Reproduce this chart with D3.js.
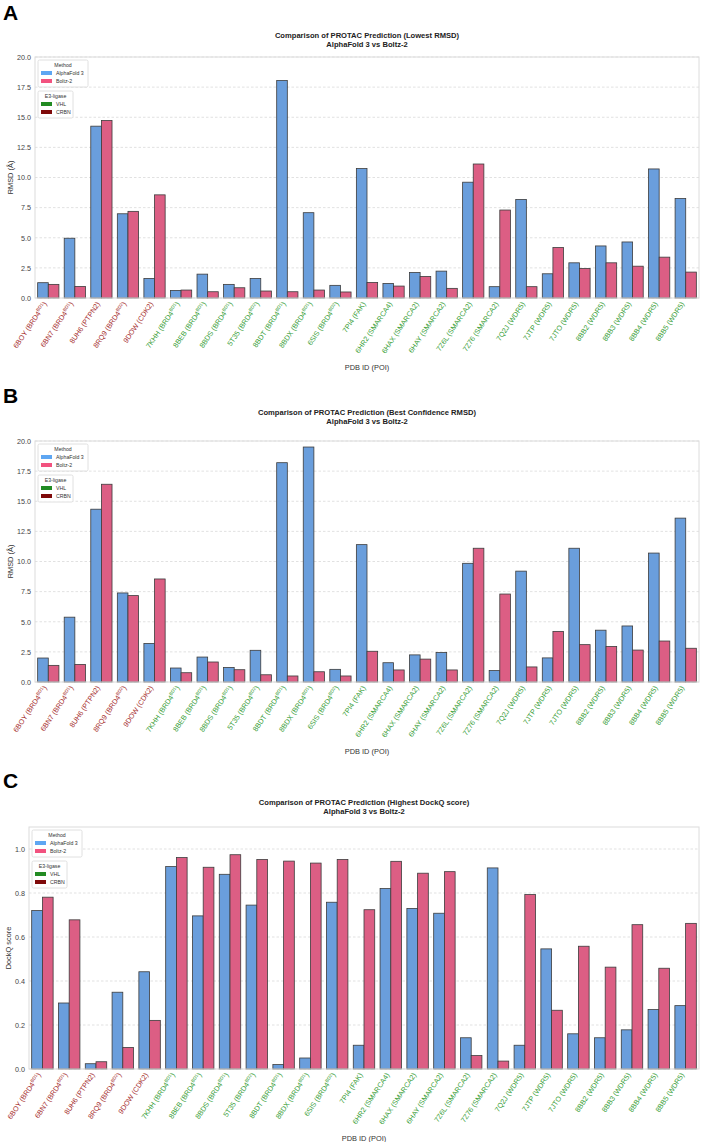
<!DOCTYPE html>
<html lang="en">
<head>
    <meta charset="UTF-8">
    <title>PROTAC prediction: AlphaFold 3 vs Boltz-2</title>
    <script src="https://cdnjs.cloudflare.com/ajax/libs/d3/7.8.5/d3.min.js"></script>
    <style>
        body {
            margin: 0;
            background-color: white;
        }

        svg {
            display: block;
            font-family: "Liberation Sans", Arial, sans-serif;
        }
    </style>
</head>
<body>
<svg id="chart" width="702" height="1142"></svg>
<script>
    // categories (PDB id + protein of interest, superscript domain where present)
    const pdbIds = ['6BOY', '6BN7', '8UH6', '8RQ9', '9DOW', '7KHH', '8BEB', '8BDS', '5T35', '8BDT', '8BDX', '6SIS', '7PI4',
        '6HR2', '6HAX', '6HAY', '7Z6L', '7Z76', '7Q2J', '7JTP', '7JTO', '8BB2', '8BB3', '8BB4', '8BB5'];
    const targets = ['BRD4', 'BRD4', 'PTPN2', 'BRD4', 'CDK2', 'BRD4', 'BRD4', 'BRD4', 'BRD4', 'BRD4', 'BRD4', 'BRD4', 'FAK',
        'SMARCA4', 'SMARCA2', 'SMARCA2', 'SMARCA2', 'SMARCA2', 'WDR5', 'WDR5', 'WDR5', 'WDR5', 'WDR5', 'WDR5', 'WDR5'];
    const domains = ['BD1', 'BD1', '', 'BD2', '', 'BD1', 'BD1', 'BD1', 'BD2', 'BD1', 'BD1', 'BD2', '',
        '', '', '', '', '', '', '', '', '', '', '', ''];
    const ligases = ['CRBN', 'CRBN', 'CRBN', 'CRBN', 'CRBN', 'VHL', 'VHL', 'VHL', 'VHL', 'VHL', 'VHL', 'VHL', 'VHL',
        'VHL', 'VHL', 'VHL', 'VHL', 'VHL', 'VHL', 'VHL', 'VHL', 'VHL', 'VHL', 'VHL', 'VHL'];

    // A: lowest RMSD
    const lowestAf3 = [1.27, 4.96, 14.26, 6.99, 1.62, 0.63, 1.98, 1.13, 1.62, 18.05, 7.08, 1.05, 10.74,
        1.21, 2.12, 2.23, 9.61, 0.94, 8.18, 2.01, 2.92, 4.32, 4.65, 10.71, 8.26];
    const lowestBoltz = [1.13, 0.96, 14.73, 7.19, 8.56, 0.66, 0.52, 0.85, 0.58, 0.52, 0.66, 0.50, 1.29,
        0.99, 1.79, 0.80, 11.12, 7.30, 0.94, 4.19, 2.45, 2.92, 2.64, 3.39, 2.15];

    // B: best confidence RMSD
    const confAf3 = [1.99, 5.38, 14.34, 7.39, 3.20, 1.16, 2.07, 1.21, 2.63, 18.2, 19.5, 1.05, 11.4,
        1.6, 2.25, 2.45, 9.85, 0.95, 9.2, 2.0, 11.1, 4.3, 4.65, 10.7, 13.6];
    const confBoltz = [1.38, 1.46, 16.41, 7.17, 8.55, 0.77, 1.66, 1.02, 0.6, 0.5, 0.85, 0.5, 2.55,
        1.0, 1.9, 1.0, 11.1, 7.3, 1.25, 4.2, 3.1, 2.95, 2.65, 3.4, 2.8];

    // C: highest DockQ
    const dockqAf3 = [0.720, 0.300, 0.024, 0.349, 0.442, 0.920, 0.696, 0.885, 0.745, 0.020, 0.050, 0.758, 0.108,
        0.820, 0.730, 0.708, 0.142, 0.914, 0.108, 0.546, 0.160, 0.142, 0.178, 0.270, 0.288];
    const dockqBoltz = [0.781, 0.678, 0.033, 0.098, 0.221, 0.961, 0.917, 0.974, 0.952, 0.945, 0.936, 0.952, 0.724,
        0.944, 0.890, 0.897, 0.061, 0.036, 0.793, 0.267, 0.558, 0.463, 0.656, 0.458, 0.662];

    const rmsdTicks = [0, 2.5, 5, 7.5, 10, 12.5, 15, 17.5, 20];
    const dockqTicks = [0, 0.2, 0.4, 0.6, 0.8, 1.0];

    const methods = ['AlphaFold 3', 'Boltz-2'];
    const barColor = {'AlphaFold 3': '#6a9edc', 'Boltz-2': '#dc5e84'};
    const patchColor = {'AlphaFold 3': '#5ea6f2', 'Boltz-2': '#f2527f'};
    const ligaseColor = {'VHL': '#228b22', 'CRBN': '#7f0a0a'};
    const labelColor = {'VHL': '#339c33', 'CRBN': '#a42a2a'};

    const svg = d3.select('#chart');

    const panels = [
        {
            letter: 'A', letterY: 20, titleY: 38, top: 57, bottom: 298, left: 35, right: 699, ylabelX: 13,
            title: 'Comparison of PROTAC Prediction (Lowest RMSD)', ylabel: 'RMSD (Å)',
            max: 20, ticks: rmsdTicks, af3: lowestAf3, boltz: lowestBoltz
        },
        {
            letter: 'B', letterY: 403, titleY: 415, top: 441, bottom: 682, left: 35, right: 699, ylabelX: 13,
            title: 'Comparison of PROTAC Prediction (Best Confidence RMSD)', ylabel: 'RMSD (Å)',
            max: 20, ticks: rmsdTicks, af3: confAf3, boltz: confBoltz
        },
        {
            letter: 'C', letterY: 788, titleY: 805, top: 827, bottom: 1069, left: 29, right: 699, ylabelX: 11,
            title: 'Comparison of PROTAC Prediction (Highest DockQ score)', ylabel: 'DockQ score',
            max: 1.1, ticks: dockqTicks, af3: dockqAf3, boltz: dockqBoltz
        }
    ];

    function drawPanel(p) {
        const g = svg.append('g');
        const x = d3.scaleBand().domain(pdbIds).range([p.left, p.right]);
        const xSub = d3.scaleBand().domain(methods).range([0, x.bandwidth()]).paddingOuter(0.25);
        const y = d3.scaleLinear().domain([0, p.max]).range([p.bottom, p.top]);
        const midX = (p.left + p.right) / 2;

        g.append('text').attr('x', 3).attr('y', p.letterY)
            .attr('font-size', 21).attr('font-weight', 'bold').attr('fill', '#000')
            .text(p.letter);

        g.append('text').attr('x', midX).attr('y', p.titleY).attr('text-anchor', 'middle')
            .attr('font-size', 7.6).attr('font-weight', 'bold').attr('fill', '#222')
            .text(p.title);
        g.append('text').attr('x', midX).attr('y', p.titleY + 9).attr('text-anchor', 'middle')
            .attr('font-size', 7.6).attr('font-weight', 'bold').attr('fill', '#222')
            .text('AlphaFold 3 vs Boltz-2');

        // grid
        g.append('g').selectAll('line').data(p.ticks).join('line')
            .attr('x1', p.left).attr('x2', p.right)
            .attr('y1', d => y(d)).attr('y2', d => y(d))
            .attr('stroke', '#d4d4d4').attr('stroke-width', 0.7).attr('stroke-dasharray', '2.5,2');

        // y axis
        const yAxis = g.append('g').attr('transform', `translate(${p.left},0)`)
            .call(d3.axisLeft(y).tickValues(p.ticks).tickSize(0).tickPadding(4).tickFormat(d3.format('.1f')));
        yAxis.select('.domain').remove();
        yAxis.selectAll('text').attr('font-size', 7.2).attr('fill', '#444')
            .attr('font-family', '"Liberation Sans", Arial, sans-serif');

        g.append('text')
            .attr('transform', `translate(${p.ylabelX},${(p.top + p.bottom) / 2}) rotate(-90)`)
            .attr('text-anchor', 'middle').attr('font-size', 7.4).attr('fill', '#333')
            .text(p.ylabel);

        // bars
        const rows = pdbIds.map((id, i) => ({id, 'AlphaFold 3': p.af3[i], 'Boltz-2': p.boltz[i]}));
        g.append('g').selectAll('g').data(rows).join('g')
            .attr('transform', d => `translate(${x(d.id)},0)`)
            .selectAll('rect')
            .data(d => methods.map(m => ({m, v: d[m]})))
            .join('rect')
            .attr('x', d => xSub(d.m))
            .attr('width', xSub.bandwidth())
            .attr('y', d => y(d.v))
            .attr('height', d => y(0) - y(d.v))
            .attr('fill', d => barColor[d.m])
            .attr('stroke', '#3c3c3c').attr('stroke-width', 0.8);

        // frame
        g.append('rect').attr('x', p.left).attr('y', p.top)
            .attr('width', p.right - p.left).attr('height', p.bottom - p.top)
            .attr('fill', 'none').attr('stroke', '#dcdcdc').attr('stroke-width', 1);

        // x labels
        const labels = g.append('g').selectAll('text').data(pdbIds).join('text')
            .attr('transform', d => `translate(${x(d) + x.bandwidth() / 2 - 1},${p.bottom + 6}) rotate(-56)`)
            .attr('text-anchor', 'end').attr('font-size', 7.2)
            .attr('fill', (d, i) => labelColor[ligases[i]]);
        labels.append('tspan').text((d, i) => `${d} (${targets[i]}`);
        labels.filter((d, i) => domains[i]).append('tspan')
            .attr('dy', -2.8).attr('font-size', 4.6).text(d => domains[pdbIds.indexOf(d)]);
        labels.append('tspan').attr('dy', (d, i) => domains[i] ? 2.8 : 0).text(')');

        g.append('text').attr('x', midX).attr('y', p.bottom + 72).attr('text-anchor', 'middle')
            .attr('font-size', 7.4).attr('fill', '#333').text('PDB ID (POI)');

        // legends
        drawLegend(g, p.left + 3, p.top + 3, 50, 'Method', methods, patchColor);
        drawLegend(g, p.left + 3, p.top + 34, 35, 'E3-ligase', ['VHL', 'CRBN'], ligaseColor);
    }

    function drawLegend(g, lx, ly, w, title, keys, colors) {
        const lg = g.append('g').attr('transform', `translate(${lx},${ly})`);
        lg.append('rect').attr('width', w).attr('height', 27).attr('rx', 1.5)
            .attr('fill', 'white').attr('fill-opacity', 0.85)
            .attr('stroke', '#d8d8d8').attr('stroke-width', 0.8);
        lg.append('text').attr('x', w / 2).attr('y', 7).attr('text-anchor', 'middle')
            .attr('font-size', 5.2).attr('fill', '#333').text(title);
        const item = lg.selectAll('g.item').data(keys).join('g').attr('class', 'item')
            .attr('transform', (d, i) => `translate(3,${11 + i * 8})`);
        item.append('rect').attr('width', 11).attr('height', 4).attr('fill', d => colors[d]);
        item.append('text').attr('x', 15).attr('y', 4).attr('font-size', 5.2).attr('fill', '#333').text(d => d);
    }

    panels.forEach(drawPanel);
</script>
</body>
</html>
